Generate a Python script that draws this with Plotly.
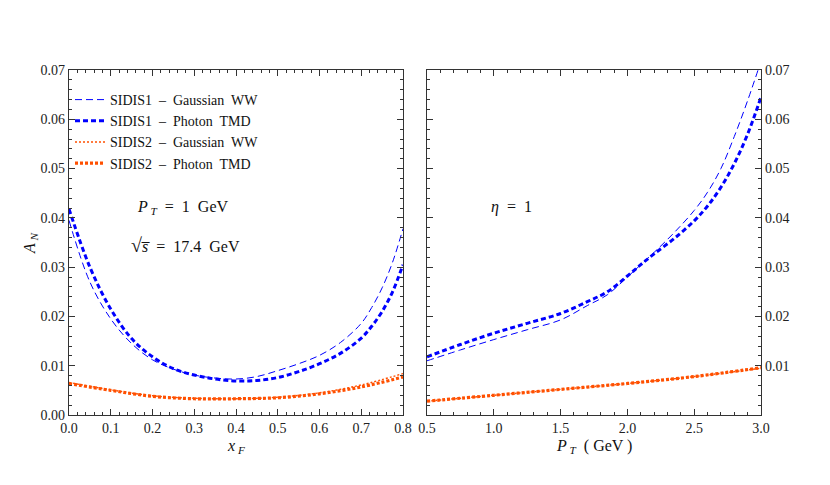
import plotly.graph_objects as go
from plotly.subplots import make_subplots

# left panel: A_N vs x_F  (P_T = 1 GeV, sqrt(s) = 17.4 GeV)
xf = [0.0, 0.05, 0.1, 0.15, 0.2, 0.25, 0.3, 0.35, 0.4, 0.45, 0.5, 0.55,
      0.6, 0.65, 0.7, 0.725, 0.75, 0.775, 0.8]
sidis1_gauss_xf = [0.0395, 0.0270, 0.0195, 0.0145, 0.0112, 0.0093, 0.0081, 0.0075,
                   0.0073, 0.0078, 0.0090, 0.0104, 0.0121, 0.0147, 0.0186, 0.0218,
                   0.0258, 0.0310, 0.0378]
sidis1_photon_xf = [0.0418, 0.0300, 0.0215, 0.0155, 0.0118, 0.0094, 0.0081, 0.0073,
                    0.0069, 0.0070, 0.0076, 0.0088, 0.0104, 0.0125, 0.0156, 0.0180,
                    0.0210, 0.0250, 0.0305]
xf_o = [0.0, 0.1, 0.2, 0.3, 0.4, 0.5, 0.6, 0.7, 0.8]
sidis2_gauss_xf = [0.0066, 0.0051, 0.0039, 0.0034, 0.0033, 0.0036, 0.0045, 0.0061, 0.0084]
sidis2_photon_xf = [0.0064, 0.0050, 0.0038, 0.0033, 0.0033, 0.0035, 0.0043, 0.0057, 0.0077]

# right panel: A_N vs P_T  (eta = 1)
pt = [0.5, 0.75, 1.0, 1.25, 1.5, 1.7, 1.85, 2.0, 2.1, 2.2, 2.35, 2.5,
      2.6, 2.7, 2.8, 2.9, 3.0]
sidis1_gauss_pt = [0.0110, 0.0132, 0.0153, 0.0173, 0.0193, 0.0222, 0.0244, 0.0280,
                   0.0305, 0.0330, 0.0370, 0.0415, 0.0452, 0.0500, 0.0565, 0.0638,
                   0.0718]
sidis1_photon_pt = [0.0118, 0.0143, 0.0166, 0.0186, 0.0206, 0.0230, 0.0250, 0.0282,
                    0.0305, 0.0327, 0.0358, 0.0394, 0.0424, 0.0462, 0.0510, 0.0570,
                    0.0645]
pt_o = [0.5, 1.0, 1.5, 2.0, 2.5, 3.0]
sidis2_gauss_pt = [0.0028, 0.0040, 0.0052, 0.0064, 0.0078, 0.0095]
sidis2_photon_pt = [0.0028, 0.0040, 0.0052, 0.0064, 0.0078, 0.0096]

names = ["SIDIS1  \u2013  Gaussian  WW", "SIDIS1  \u2013  Photon  TMD",
         "SIDIS2  \u2013  Gaussian  WW", "SIDIS2  \u2013  Photon  TMD"]

BLUE = "rgb(0,0,255)"
ORANGE = "rgb(255,80,0)"
styles = [dict(color=BLUE, width=1, dash="7px,4px"),
          dict(color=BLUE, width=3, dash="5px,3px"),
          dict(color=ORANGE, width=1.4, dash="2px,2px"),
          dict(color=ORANGE, width=3.2, dash="3px,2px")]

FONT = "Times New Roman, Liberation Serif, DejaVu Serif, serif"

# the page body adds an 8px margin, so the figure is laid out in 822x477
W, H, OFF = 822, 477, 8


def px(p):
    return (p - OFF) / W


def py(p):
    return 1 - (p - OFF) / H


fig = make_subplots(rows=1, cols=2)

left = [(xf, sidis1_gauss_xf), (xf, sidis1_photon_xf),
        (xf_o, sidis2_gauss_xf), (xf_o, sidis2_photon_xf)]
right = [(pt, sidis1_gauss_pt), (pt, sidis1_photon_pt),
         (pt_o, sidis2_gauss_pt), (pt_o, sidis2_photon_pt)]

for i, (x, y) in enumerate(left):
    fig.add_trace(go.Scatter(x=x, y=y, mode="lines", name=names[i],
                             line=dict(shape="spline", **styles[i])), row=1, col=1)
for i, (x, y) in enumerate(right):
    fig.add_trace(go.Scatter(x=x, y=y, mode="lines", name=names[i], showlegend=False,
                             line=dict(shape="spline", **styles[i])), row=1, col=2)

axis_common = dict(showgrid=False, zeroline=False, showline=True, linecolor="#333",
                   linewidth=1.2, mirror="allticks", ticks="inside", ticklen=6,
                   tickcolor="#333", tickwidth=1, automargin=False,
                   tickfont=dict(family=FONT, size=14, color="#222"))
minor_common = dict(ticks="inside", ticklen=3, tickcolor="#333", tickwidth=1)

fig.update_xaxes(**axis_common)
fig.update_yaxes(**axis_common)

fig.update_xaxes(range=[0, 0.8], tickvals=[i / 10 for i in range(9)], tickformat=".1f",
                 minor=dict(dtick=0.02, tick0=0, **minor_common),
                 domain=[px(69), px(403)], row=1, col=1)
fig.update_xaxes(range=[0.5, 3.0], tickvals=[0.5, 1.0, 1.5, 2.0, 2.5, 3.0],
                 tickformat=".1f", minor=dict(dtick=0.1, tick0=0.5, **minor_common),
                 domain=[px(427), px(761)], row=1, col=2)
fig.update_yaxes(range=[0, 0.07], tickvals=[i / 100 for i in range(8)], tickformat=".2f",
                 minor=dict(dtick=0.002, tick0=0, **minor_common),
                 domain=[py(415), py(70)], row=1, col=1)
fig.update_yaxes(range=[0, 0.07], tickvals=[i / 100 for i in range(1, 8)], tickformat=".2f",
                 side="right", minor=dict(dtick=0.002, tick0=0, **minor_common),
                 domain=[py(415), py(70)], row=1, col=2)

annots = [
    dict(x=0.273, y=0.0422, xref="x", yref="y",
         text="<i>P</i><sub> <i>T</i></sub>  =  1  GeV"),
    dict(x=0.278, y=0.0345, xref="x", yref="y",
         text="<span style='font-size:20px'>\u221a</span><i>s\u0305</i>  =  17.4  GeV"),
    dict(x=1.13, y=0.0422, xref="x2", yref="y2", text="<i>\u03b7</i>  =  1"),
    dict(x=px(236), y=py(446), xref="paper", yref="paper",
         text="<i>x</i><sub> <i>F</i></sub>"),
    dict(x=px(594), y=py(446), xref="paper", yref="paper",
         text="<i>P</i><sub> <i>T</i></sub>  ( GeV )"),
    dict(x=px(30), y=py(243), xref="paper", yref="paper", textangle=-90,
         text="<i>A</i><sub> <i>N</i></sub>"),
]
for a in annots:
    fig.add_annotation(showarrow=False, xanchor="center", yanchor="middle",
                       font=dict(family=FONT, size=16, color="#111"), **a)

fig.update_layout(
    width=W, height=H,
    margin=dict(l=0, r=0, t=0, b=0),
    font=dict(family=FONT, color="#222"),
    paper_bgcolor="white", plot_bgcolor="white",
    legend=dict(x=px(70), y=py(84), xanchor="left", yanchor="top",
                bgcolor="rgba(0,0,0,0)", tracegroupgap=0,
                font=dict(family=FONT, size=14, color="#111")),
)

fig.write_html("out.html")
